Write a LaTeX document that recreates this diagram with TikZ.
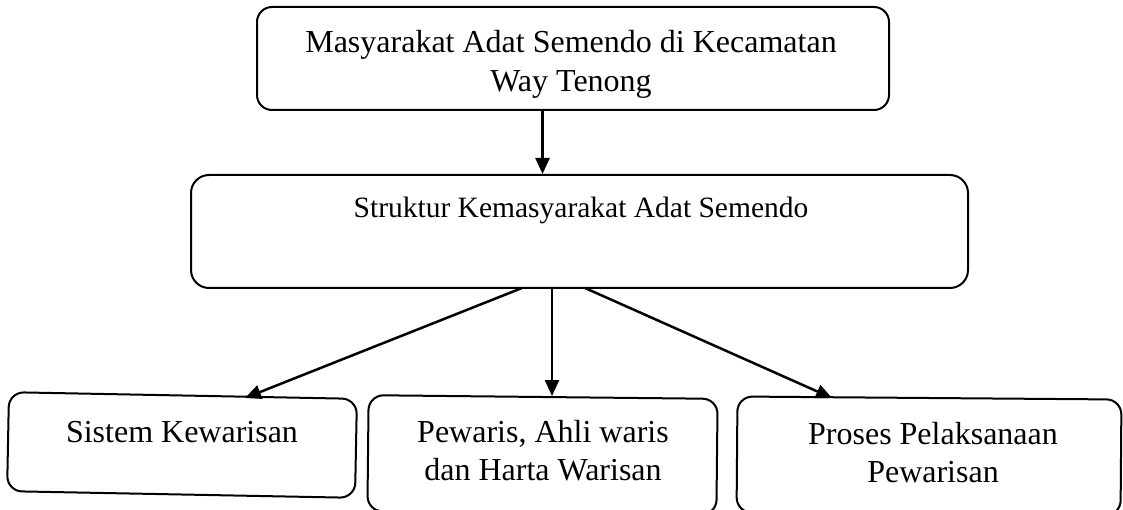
\documentclass[tikz,border=0pt]{standalone}
\usepackage{fontspec}
\setmainfont{Liberation Serif}
\usetikzlibrary{arrows.meta}
\begin{document}
\begin{tikzpicture}[x=1pt,y=-1pt,
  box/.style={draw=black, line width=2pt, rounded corners=15pt, inner sep=0pt},
  txt/.style={align=center, inner sep=0pt},
  arr/.style={draw=black, line width=2.5pt, -{Triangle[length=16pt,width=14pt]}}]
\useasboundingbox (0,0) rectangle (1123,510);
\clip (0,0) rectangle (1123,510);
% boxes
\node[box, minimum width=632pt, minimum height=103pt] (top) at (573,58.5) {};
\node[box, rounded corners=18pt, minimum width=777pt, minimum height=113pt] (struk) at (579.5,231.5) {};
\node[box, rotate=-1.1, minimum width=348pt, minimum height=99pt] (b1) at (182,445) {};
\node[box, rotate=-0.6, minimum width=349pt, minimum height=116pt] (b2) at (542.5,455) {};
\node[box, rotate=-0.45, minimum width=384pt, minimum height=116pt] (b3) at (929,456) {};
% texts
\node[txt, font=\fontsize{32}{39}\selectfont] (ttop) at (571,64) {Masyarakat Adat Semendo di Kecamatan\\Way Tenong};
\node[txt, font=\fontsize{29.5}{36}\selectfont, anchor=base] (tstruk) at (581,218) {Struktur Kemasyarakat Adat Semendo};
\node[txt, font=\fontsize{32}{38}\selectfont, anchor=base] (tb1) at (182,442) {Sistem Kewarisan};
\node[txt, font=\fontsize{32}{38}\selectfont, anchor=base] (tb2) at (543,480) {Pewaris, Ahli waris\\dan Harta Warisan};
\node[txt, font=\fontsize{32}{38}\selectfont, anchor=base] (tb3) at (933,482) {Proses Pelaksanaan\\Pewarisan};
% connector end points
\coordinate (sL) at (522,288);
\coordinate (sM) at (552,288);
\coordinate (sR) at (585,288);
\coordinate (eL) at (245,398);
\coordinate (eM) at (552,396);
\coordinate (eR) at (832,398);
\draw[arr] (top.south -| b2) -- (struk.north -| b2);
\draw[arr] (sL) -- (eL);
\draw[arr] (sM) -- (eM);
\draw[arr] (sR) -- (eR);
\end{tikzpicture}
\end{document}
